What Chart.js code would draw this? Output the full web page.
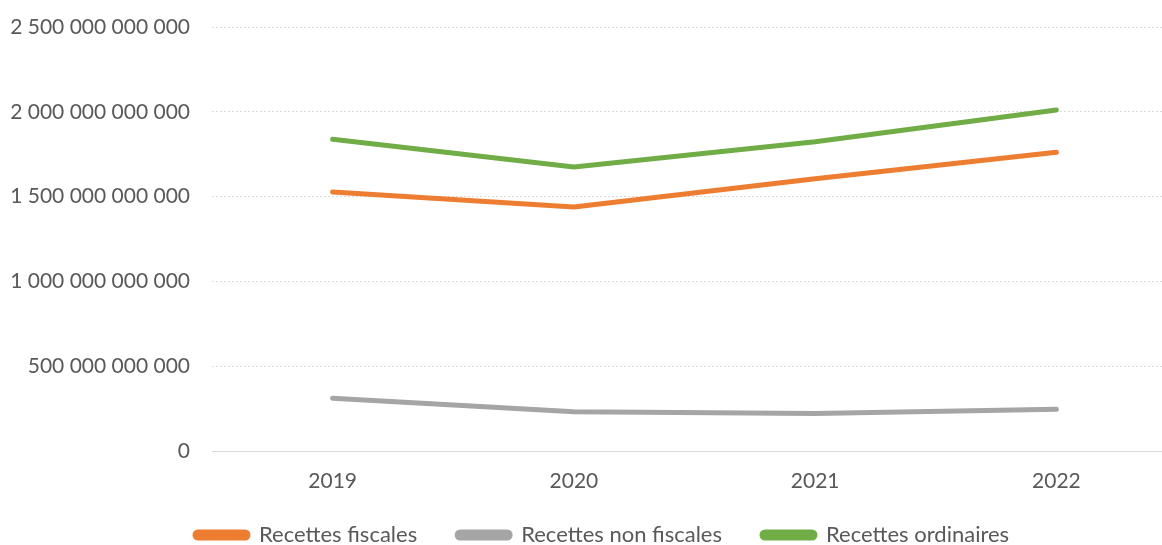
<!DOCTYPE html>
<html>
<head>
<meta charset="utf-8">
<script src="https://cdn.jsdelivr.net/npm/chart.js@4"></script>
<style>
  html, body { margin: 0; padding: 0; background: #fff; overflow: hidden; }
  #wrap { width: 1180px; height: 567px; }
</style>
</head>
<body>
<div id="wrap"><canvas id="chart"></canvas></div>
<script>
const years = ["2019", "2020", "2021", "2022"]
const recettesFiscales = [1527e9, 1439e9, 1605e9, 1761e9]
const recettesNonFiscales = [311e9, 232e9, 221e9, 246e9]
const recettesOrdinaires = [1838e9, 1674e9, 1824e9, 2011e9]
const yTicks = [0, 500e9, 1000e9, 1500e9, 2000e9, 2500e9]

const tickFont = { family: "Lato, 'Open Sans', sans-serif", size: 21 }
const legendFont = { family: "Lato, 'Open Sans', sans-serif", size: 22 }
const textColor = "#595959"

// espaces comme séparateur de milliers
function fmt(v) {
  return String(Math.round(v)).replace(/\B(?=(\d{3})+(?!\d))/g, " ")
}

function serie(label, data, color) {
  return {
    label,
    data,
    borderColor: color,
    backgroundColor: color,
    borderWidth: 5,
    borderCapStyle: "round",
    borderJoinStyle: "round",
    pointRadius: 0,
    tension: 0
  }
}

// place la légende comme dans l'original
const legendPos = {
  id: "legendPos",
  afterLayout(chart) {
    const lg = chart.legend
    if (!lg) return
    const h = lg.bottom - lg.top
    lg.left += 155
    lg.right += 155
    lg.top = 484
    lg.bottom = 484 + h
  }
}

new Chart(document.getElementById("chart"), {
  type: "line",
  data: {
    labels: years,
    datasets: [
      serie("Recettes fiscales", recettesFiscales, "#ED7D31"),
      serie("Recettes non fiscales", recettesNonFiscales, "#A5A5A5"),
      serie("Recettes ordinaires", recettesOrdinaires, "#70AD47")
    ]
  },
  plugins: [legendPos],
  options: {
    responsive: true,
    maintainAspectRatio: false,
    animation: false,
    layout: { padding: { top: 27, right: 3, left: 0, bottom: 0 } },
    plugins: {
      legend: {
        position: "bottom",
        align: "start",
        labels: {
          font: legendFont,
          color: textColor,
          boxWidth: 53,
          boxHeight: 6,
          useBorderRadius: true,
          borderRadius: 3,
          padding: 40
        }
      },
      tooltip: { enabled: false }
    },
    scales: {
      x: {
        offset: true,
        afterFit: axis => {
          axis.height = 44
          axis.paddingLeft = 0
          axis.paddingRight = 0
        },
        grid: { display: false },
        border: { display: true, color: "#D9D9D9", width: 1 },
        ticks: { font: tickFont, color: textColor, padding: 10 }
      },
      y: {
        min: 0,
        max: 2500e9,
        afterBuildTicks: axis => { axis.ticks = yTicks.map(v => ({ value: v })) },
        afterFit: axis => {
          axis.width = 212
          axis.paddingTop = 0
          axis.paddingBottom = 0
        },
        grid: { color: "#D9D9D9", lineWidth: 1, drawTicks: false },
        border: { display: false, dash: [2, 2] },
        ticks: { font: tickFont, color: textColor, padding: 22, callback: v => fmt(v) }
      }
    }
  }
})
</script>
</body>
</html>
